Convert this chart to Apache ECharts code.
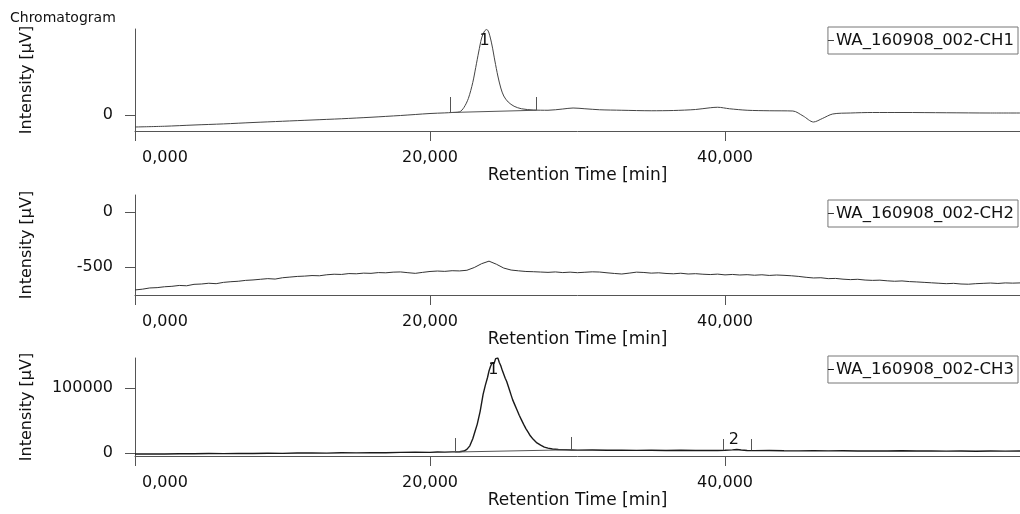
<!DOCTYPE html>
<html>
<head>
<meta charset="utf-8">
<script src="https://cdn.jsdelivr.net/npm/echarts@6/dist/echarts.min.js"></script>
<style>
  html, body { margin: 0; padding: 0; background: #fff; }
  #chart { width: 1020px; height: 514px; }
</style>
</head>
<body>
<div id="chart"></div>
<script>
// x ticks shared by all three channels
const xTicks = [0, 20, 40];

// channel 1 trace [min, µV]
const ch1 = [[0,-240],[2,-225],[4,-200],[6,-178],[8,-150],[10,-125],[12,-100],[14,-75],[16,-45],[18,-10],[19,10],[20,30],[21,42],[21.5,50],[22,62],
  [22.3,150],[22.6,330],[22.9,650],[23.1,950],[23.3,1260],[23.5,1540],[23.7,1680],[23.85,1710],[24,1640],[24.2,1400],[24.4,1080],[24.6,780],
  [24.8,540],[25,380],[25.3,260],[25.7,175],[26.2,125],[27,100],[28,95],[29,120],[29.7,140],[30.5,125],[31.5,105],[33,95],[35,85],[36.5,90],
  [38,110],[39,145],[39.5,155],[40.3,125],[41.5,95],[43,85],[44.6,80],[45.3,-20],[46,-140],[46.6,-70],[47.3,20],[48.5,40],[50,50],[52,50],
  [55,45],[58,40],[60,40]];
const ch1Marks = [[21.36, 60, 360], [27.2, 90, 360]];
const ch1Base = [[21.36, 50], [27.2, 95]];
const ch1Labels = [[23.7, 1480, '1']];

// channel 2 trace
const ch2 = [[0,-709],[0.5,-702],[1,-691],[1.5,-688],[2,-680],[2.5,-676],[3,-668],[3.5,-671],[4,-658],[4.5,-655],[5,-648],[5.5,-652],
  [6,-640],[6.5,-634],[7,-630],[7.5,-622],[8,-618],[8.5,-612],[9,-606],[9.5,-610],[10,-598],[10.5,-592],[11,-586],[11.5,-583],[12,-578],
  [12.5,-580],[13,-571],[13.5,-566],[14,-568],[14.5,-560],[15,-562],[15.5,-556],[16,-558],[16.5,-551],[17,-553],[17.5,-547],[18,-545],
  [18.5,-552],[19,-558],[19.5,-549],[20,-541],[20.5,-537],[21,-540],[21.5,-534],[22,-536],[22.5,-530],[23,-505],[23.5,-470],[24,-447],
  [24.5,-475],[25,-510],[25.5,-528],[26,-535],[26.5,-541],[27,-543],[27.5,-546],[28,-549],[28.5,-545],[29,-551],[29.5,-547],[30,-552],
  [30.5,-548],[31,-544],[31.5,-546],[32,-553],[32.5,-559],[33,-564],[33.5,-556],[34,-547],[34.5,-550],[35,-556],[35.5,-553],[36,-559],
  [36.5,-562],[37,-557],[37.5,-564],[38,-561],[38.5,-566],[39,-569],[39.5,-565],[40,-572],[40.5,-568],[41,-573],[41.5,-570],[42,-575],
  [42.5,-571],[43,-577],[43.5,-573],[44,-576],[44.5,-580],[45,-586],[45.5,-594],[46,-600],[46.5,-598],[47,-606],[47.5,-604],[48,-611],
  [48.5,-615],[49,-612],[49.5,-619],[50,-622],[50.5,-620],[51,-626],[51.5,-630],[52,-627],[52.5,-633],[53,-636],[53.5,-640],[54,-644],
  [54.5,-648],[55,-652],[55.5,-649],[56,-655],[56.5,-657],[57,-652],[57.5,-649],[58,-646],[58.5,-650],[59,-645],[59.5,-647],[60,-645]];

// channel 3 trace
const ch3 = [[0,-1600],[1,-1300],[2,-1500],[3,-1100],[4,-1200],[5,-800],[6,-1000],[7,-600],[8,-700],[9,-300],[10,-500],[11,-100],[12,0],
  [13,-200],[14,300],[15,200],[16,600],[17,500],[18,900],[19,1200],[20,1000],[20.5,1500],[21,1300],[21.5,1700],[22,1900],[22.3,3000],
  [22.5,5500],[22.7,11000],[22.9,22000],[23.05,33000],[23.2,44000],[23.4,64000],[23.6,90000],[23.75,104000],[23.9,116000],[24,126000],
  [24.1,133000],[24.2,138000],[24.3,141000],[24.35,138000],[24.45,145000],[24.55,142000],[24.6,146000],[24.7,139000],[24.8,134000],
  [24.9,127000],[25,121000],[25.1,115000],[25.2,110000],[25.3,103000],[25.4,96000],[25.5,89000],[25.6,82000],[25.75,74000],[25.9,66000],
  [26.05,58000],[26.2,51000],[26.35,44000],[26.5,37500],[26.65,32000],[26.8,26500],[27,21000],[27.25,15500],[27.5,12000],[27.75,9000],
  [28,7500],[28.3,6200],[28.7,5400],[29.2,5000],[29.6,4700],[30,4400],[31,4700],[32,4200],[33,4500],[34,4000],[35,4300],[36,3900],
  [37,4200],[38,3800],[39,4100],[39.5,3900],[40,4200],[40.5,4800],[40.8,5400],[41.1,4600],[41.5,3800],[42,3600],[43,3900],[44,3500],
  [45,3300],[46,3700],[47,3200],[48,3400],[49,3000],[50,3300],[51,3100],[52,3400],[53,3000],[54,3200],[55,2900],[56,3100],[57,2800],
  [58,3000],[59,2900],[60,3000]];
const ch3Marks = [[21.7, 1500, 23000], [29.6, 5400, 24600], [39.9, 4300, 21500], [41.8, 4300, 21500]];
const ch3Base = [[21.7, 1500], [29.6, 5000]];
const ch3Labels = [[24.3, 128000, '1'], [40.6, 20500, '2']];

const FONT = 'DejaVu Sans';
const TXT = '#111';
const AXIS = '#555';

function fmtTime(v) {
  return v.toFixed(3).replace('.', ',');
}

const panels = [
  { name: 'WA_160908_002-CH1', data: ch1, top: 29, height: 102, min: -320, max: 1720, yTicks: [0],
    marks: ch1Marks, base: ch1Base, labels: ch1Labels, color: '#444', width: 1, smooth: 0.3, legendTop: 27 },
  { name: 'WA_160908_002-CH2', data: ch2, top: 195, height: 100, min: -755, max: 155, yTicks: [0, -500],
    marks: [], base: null, labels: [], color: '#333', width: 1, smooth: false, legendTop: 200 },
  { name: 'WA_160908_002-CH3', data: ch3, top: 358, height: 98, min: -4600, max: 146000, yTicks: [0, 100000],
    marks: ch3Marks, base: ch3Base, labels: ch3Labels, color: '#1a1a1a', width: 1.4, smooth: false, legendTop: 356 }
];

const option = {
  animation: false,
  backgroundColor: '#fff',
  title: {
    text: 'Chromatogram', left: 5, top: 6,
    textStyle: { fontFamily: FONT, fontSize: 14, fontWeight: 'normal', color: TXT }
  },
  grid: [], xAxis: [], yAxis: [], series: [], legend: []
};

panels.forEach((p, i) => {
  option.grid.push({ left: 135, right: 0, top: p.top, height: p.height });
  option.xAxis.push({
    gridIndex: i, type: 'value', min: 0, max: 60,
    axisLine: { show: true, onZero: false, lineStyle: { color: AXIS, width: 1 } },
    axisTick: { show: true, length: 10, customValues: xTicks, lineStyle: { color: AXIS } },
    axisLabel: {
      customValues: xTicks, margin: 19, color: TXT, fontFamily: FONT, fontSize: 16,
      formatter: v => (v === 0 ? '{s|' + fmtTime(v) + '}' : fmtTime(v)),
      rich: { s: { padding: [0, 0, 0, 60], color: TXT, fontFamily: FONT, fontSize: 16 } }
    },
    splitLine: { show: false },
    name: 'Retention Time [min]', nameLocation: 'middle', nameGap: 35,
    nameTextStyle: { fontFamily: FONT, fontSize: 17, color: TXT }
  });
  option.yAxis.push({
    gridIndex: i, type: 'value', min: p.min, max: p.max,
    axisLine: { show: true, onZero: false, lineStyle: { color: AXIS, width: 1 } },
    axisTick: { show: true, length: 10, customValues: p.yTicks, lineStyle: { color: AXIS } },
    axisLabel: { customValues: p.yTicks, margin: 22, color: TXT, fontFamily: FONT, fontSize: 16, formatter: v => String(v) },
    splitLine: { show: false },
    name: 'Intensity [µV]', nameLocation: 'middle', nameRotate: 90, nameGap: 100,
    nameTextStyle: { fontFamily: FONT, fontSize: 16, color: TXT }
  });

  const lineData = p.marks.map(m => [{ coord: [m[0], m[1]] }, { coord: [m[0], m[2]] }]);
  if (p.base) lineData.push([{ coord: p.base[0] }, { coord: p.base[1] }]);

  option.series.push({
    name: p.name, type: 'line', xAxisIndex: i, yAxisIndex: i,
    data: p.data, symbol: 'none', smooth: p.smooth,
    lineStyle: { color: p.color, width: p.width },
    itemStyle: { color: p.color },
    markLine: {
      silent: true, symbol: ['none', 'none'], label: { show: false },
      lineStyle: { color: '#555', width: 1, type: 'solid' },
      emphasis: { disabled: true },
      data: lineData
    },
    markPoint: {
      silent: true, symbol: 'circle', symbolSize: 0,
      label: { show: true, position: 'inside', formatter: d => d.name, color: TXT, fontFamily: FONT, fontSize: 16 },
      data: p.labels.map(l => ({ name: l[2], coord: [l[0], l[1]] }))
    }
  });

  option.legend.push({
    data: [{ name: p.name, icon: 'rect' }], right: 2, top: p.legendTop, orient: 'horizontal',
    backgroundColor: '#fff', borderColor: '#777', borderWidth: 1, borderRadius: 0,
    padding: [5, 4, 5, 0], itemWidth: 6, itemHeight: 1, selectedMode: false,
    textStyle: { fontFamily: FONT, fontSize: 16.5, color: TXT, padding: [0, 0, 0, -3] }
  });
});

const chart = echarts.init(document.getElementById('chart'), null, { renderer: 'canvas' });
chart.setOption(option);
</script>
</body>
</html>
